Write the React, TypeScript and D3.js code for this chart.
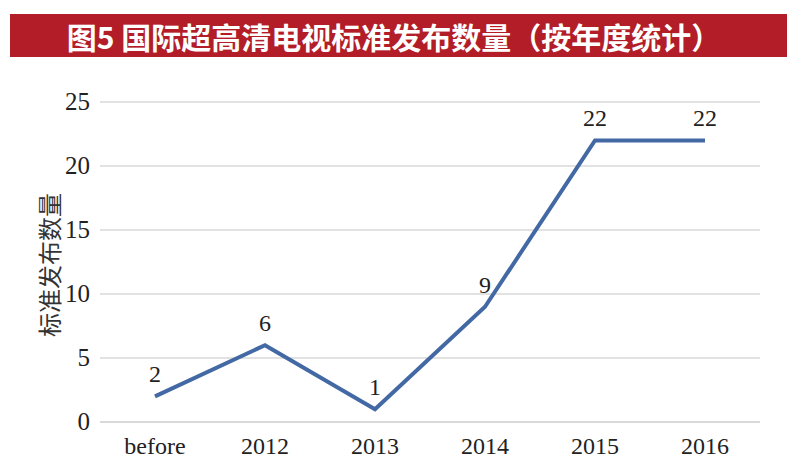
import React from "react";
import * as d3 from "d3";

const categories = ["before", "2012", "2013", "2014", "2015", "2016"];
const values = [2, 6, 1, 9, 22, 22];
const yTicks = [0, 5, 10, 15, 20, 25];
const title = "图5 国际超高清电视标准发布数量（按年度统计）";
const yTitle = "标准发布数量";

export default function App() {
  const W = 800, H = 476;
  const left = 100, right = 760, top = 102, bottom = 422;
  const x = d3.scaleBand().domain(categories).range([left, right]);
  const y = d3.scaleLinear().domain([0, 25]).range([bottom, top]);
  const cx = (c: string) => (x(c) as number) + x.bandwidth() / 2;
  const line = d3.line<number>().x((_, i) => cx(categories[i])).y((d) => y(d));
  const serif = "'Liberation Serif', 'DejaVu Serif', serif";
  const cjk = "'Noto Sans CJK SC', sans-serif";
  return (
    <svg width={W} height={H} style={{ position: "absolute", left: 0, top: 0, background: "#fff" }}>
      <rect x={10} y={14} width={777} height={43} fill="#b21d27" />
      <text x={394} y={36} textAnchor="middle" dominantBaseline="central" fill="#fff" fontFamily={cjk} fontWeight={700} fontSize={30}>
        {title}
      </text>
      {yTicks.map((t) => (
        <g key={t}>
          <line x1={left} x2={right} y1={y(t)} y2={y(t)} stroke="#d9d9d9" strokeWidth={t === 0 ? 2 : 1.5} />
          <text x={90} y={y(t) - 1} textAnchor="end" dominantBaseline="central" fontFamily={serif} fontSize={25} fill="#222">
            {t}
          </text>
        </g>
      ))}
      <text transform={`translate(48,${(top + bottom) / 2 + 3}) rotate(-90)`} textAnchor="middle" dominantBaseline="central" fontFamily={cjk} fontSize={24} fill="#333">
        {yTitle}
      </text>
      {categories.map((c) => (
        <text key={c} x={cx(c)} y={446} textAnchor="middle" dominantBaseline="central" fontFamily={serif} fontSize={24} fill="#222">
          {c}
        </text>
      ))}
      <path d={line(values) || ""} fill="none" stroke="#4369a4" strokeWidth={4} strokeLinejoin="miter" />
      {values.map((v, i) => (
        <text key={i} x={cx(categories[i])} y={y(v) - 22} textAnchor="middle" dominantBaseline="central" fontFamily={serif} fontSize={24} fill="#222">
          {v}
        </text>
      ))}
    </svg>
  );
}
